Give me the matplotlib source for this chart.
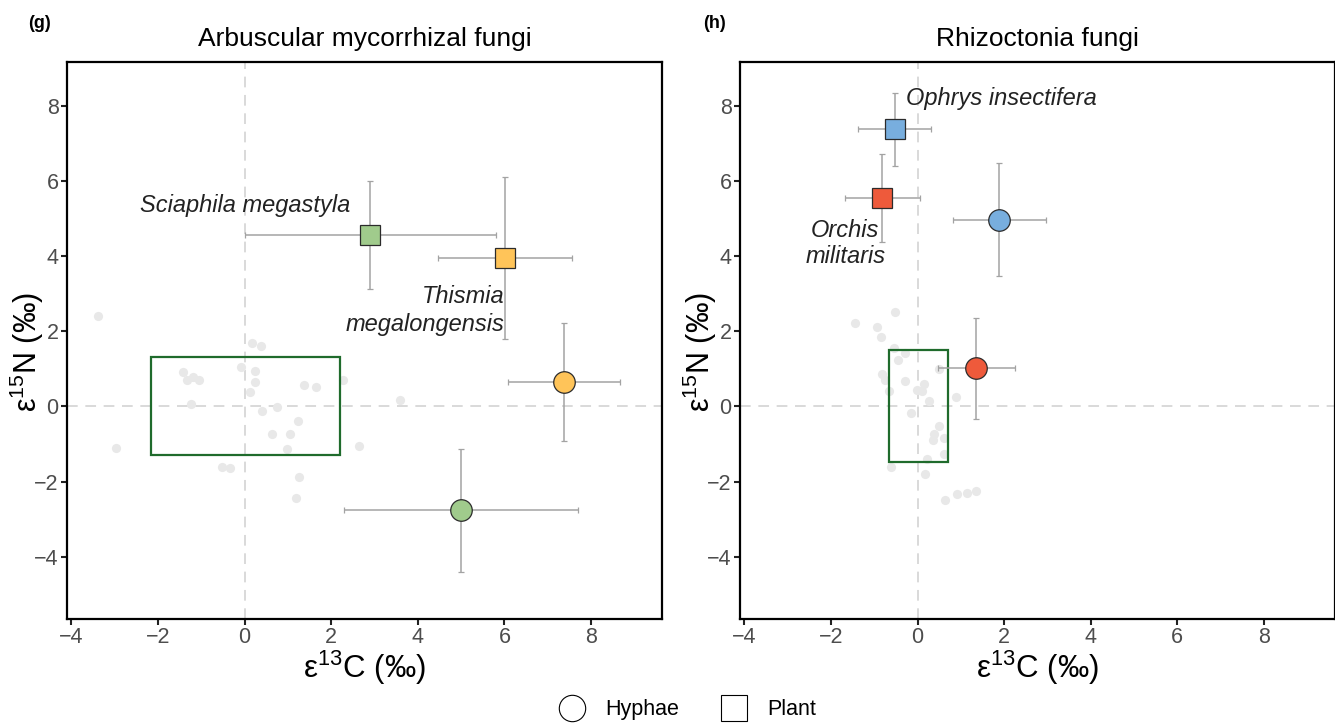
"""Carbon / nitrogen enrichment of mycoheterotrophs vs fungal hyphae (panels g, h)."""
import matplotlib.pyplot as plt
from matplotlib.lines import Line2D
from matplotlib.patches import Rectangle

plt.rcParams["font.family"] = ["Liberation Sans", "DejaVu Sans"]

# ── reference (autotroph) cloud, panel g ─────────────────────────────────────
am_ref_x = [-3.39, 0.18, 0.37, -1.43, -1.20, -1.32, -1.06, -0.08, 0.23, 0.24, 0.12,
            2.27, 1.37, 1.66, -1.23, 0.41, 0.74, 1.24, 0.64, 1.06, 0.98, -2.97,
            2.64, -0.53, -0.33, 1.26, 1.19, 3.59]
am_ref_y = [2.41, 1.69, 1.60, 0.92, 0.78, 0.71, 0.71, 1.06, 0.94, 0.64, 0.37,
            0.69, 0.56, 0.51, 0.05, -0.13, -0.01, -0.38, -0.73, -0.73, -1.13, -1.10,
            -1.06, -1.60, -1.63, -1.89, -2.44, 0.16]

# ── reference cloud, panel h ─────────────────────────────────────────────────
rh_ref_x = [-0.52, -1.45, -0.94, -0.85, -0.55, -0.30, -0.45, 0.50, -0.81, -0.75,
            -0.29, 0.16, -0.01, 0.11, -0.66, 0.27, 0.88, -0.14, 0.50, 0.39, 0.35,
            0.61, 0.62, 0.22, -0.61, 0.18, 0.63, 0.91, 1.15, 1.34]
rh_ref_y = [2.50, 2.21, 2.12, 1.85, 1.56, 1.43, 1.24, 0.99, 0.86, 0.69, 0.67,
            0.60, 0.44, 0.40, 0.42, 0.14, 0.24, -0.19, -0.52, -0.74, -0.89, -0.84,
            -1.26, -1.39, -1.61, -1.79, -2.48, -2.32, -2.30, -2.26]

# ── species means (plant = square, hyphae = circle) ──────────────────────────
am_species = ["Sciaphila megastyla", "Thismia megalongensis"]
am_colors = ["#A0CB8C", "#FFC459"]
am_plant_x = [2.90, 6.02]
am_plant_y = [4.55, 3.94]
am_plant_xerr = [2.90, 1.55]
am_plant_yerr = [1.44, 2.15]
am_hyph_x = [4.99, 7.38]
am_hyph_y = [-2.77, 0.66]
am_hyph_xerr = [2.70, 1.30]
am_hyph_yerr = [1.64, 1.57]

rh_species = ["Ophrys insectifera", "Orchis militaris"]
rh_colors = ["#78AEDE", "#EE5A3B"]
rh_plant_x = [-0.53, -0.81]
rh_plant_y = [7.37, 5.53]
rh_plant_xerr = [0.84, 0.86]
rh_plant_yerr = [0.97, 1.17]
rh_hyph_x = [1.89, 1.36]
rh_hyph_y = [4.97, 1.01]
rh_hyph_xerr = [1.08, 0.88]
rh_hyph_yerr = [1.50, 1.35]

# green boxes: (xmin, xmax, ymin, ymax)
am_box = (-2.15, 2.20, -1.30, 1.30)
rh_box = (-0.67, 0.71, -1.49, 1.49)

XLIM = (-4.10, 9.64)
YLIM = (-5.66, 9.15)
ERR_COL = "#A3A3A3"
TICK_COL = "#4D4D4D"


def panel(ax, ref_x, ref_y, px, py, pxe, pye, hx, hy, hxe, hye, colors, box):
    ax.axhline(0, color="#CFCFCF", lw=1.1, ls=(0, (7, 5)), zorder=0)
    ax.axvline(0, color="#CFCFCF", lw=1.1, ls=(0, (7, 5)), zorder=0)
    ax.scatter(ref_x, ref_y, s=44, color="#E8E8E8", lw=0, zorder=1)
    ax.add_patch(Rectangle((box[0], box[2]), box[1] - box[0], box[3] - box[2],
                           fill=False, ec="#1F6B2C", lw=1.6, zorder=2))
    for i, c in enumerate(colors):
        ax.errorbar(px[i], py[i], xerr=pxe[i], yerr=pye[i], fmt="s", ms=15,
                    mfc=c, mec="#2B2B2B", mew=0.9, ecolor=ERR_COL, elinewidth=1.1,
                    capsize=2.5, capthick=1.0, zorder=3)
        ax.errorbar(hx[i], hy[i], xerr=hxe[i], yerr=hye[i], fmt="o", ms=15.5,
                    mfc=c, mec="#2B2B2B", mew=0.9, ecolor=ERR_COL, elinewidth=1.1,
                    capsize=2.5, capthick=1.0, zorder=3)
    ax.set_xlim(*XLIM)
    ax.set_ylim(*YLIM)
    ticks = [-4, -2, 0, 2, 4, 6, 8]
    labels = ["\u22124", "\u22122", "0", "2", "4", "6", "8"]
    ax.set_xticks(ticks)
    ax.set_yticks(ticks)
    ax.set_xticklabels(labels)
    ax.set_yticklabels(labels)
    ax.tick_params(length=4, width=1.5, color="#222222", labelsize=15.5,
                   labelcolor=TICK_COL, pad=2)
    for sp in ax.spines.values():
        sp.set_linewidth(1.6)
        sp.set_color("black")
    ax.set_xlabel(r"$\mathregular{\varepsilon^{13}C}$ (‰)", fontsize=22.5, labelpad=0)
    ax.set_ylabel(r"$\mathregular{\varepsilon^{15}N}$ (‰)", fontsize=22)
    ax.yaxis.set_label_coords(-0.036, 0.48)


fig = plt.figure(figsize=(13.35, 7.25), dpi=100)
ax_g = fig.add_axes([0.0502, 0.146, 0.4457, 0.768])
ax_h = fig.add_axes([0.5543, 0.146, 0.4457, 0.768])

panel(ax_g, am_ref_x, am_ref_y, am_plant_x, am_plant_y, am_plant_xerr, am_plant_yerr,
      am_hyph_x, am_hyph_y, am_hyph_xerr, am_hyph_yerr, am_colors, am_box)
panel(ax_h, rh_ref_x, rh_ref_y, rh_plant_x, rh_plant_y, rh_plant_xerr, rh_plant_yerr,
      rh_hyph_x, rh_hyph_y, rh_hyph_xerr, rh_hyph_yerr, rh_colors, rh_box)

ax_g.set_title("Arbuscular mycorrhizal fungi", fontsize=19, pad=11.5)
ax_h.set_title("Rhizoctonia fungi", fontsize=19, pad=11.5)
fig.text(0.021, 0.968, "(g)", fontsize=13, fontweight="bold", va="center")
fig.text(0.527, 0.968, "(h)", fontsize=13, fontweight="bold", va="center")

# species labels
lab = dict(fontsize=17, style="italic", color="#222222")
ax_g.text(2.43, 5.35, "Sciaphila megastyla", ha="right", va="center", **lab)
ax_g.text(6.01, 2.55, "Thismia\nmegalongensis", ha="right", va="center",
          multialignment="right", linespacing=1.25, **lab)
ax_h.text(-0.27, 8.19, "Ophrys insectifera", ha="left", va="center", **lab)
ax_h.text(-1.67, 4.33, "Orchis\nmilitaris", ha="center", va="center",
          multialignment="center", linespacing=1.2, **lab)

# shape legend
handles = [Line2D([], [], ls="none", marker="o", ms=19, mfc="white", mec="black", mew=0.8),
           Line2D([], [], ls="none", marker="s", ms=19, mfc="white", mec="black", mew=0.8)]
fig.legend(handles, ["Hyphae", "Plant"], loc="center", bbox_to_anchor=(0.512, 0.021),
           ncol=2, frameon=False, fontsize=15.5, handletextpad=0.55, columnspacing=1.55,
           borderpad=0)

plt.savefig("out.png", dpi=100)
plt.close()
